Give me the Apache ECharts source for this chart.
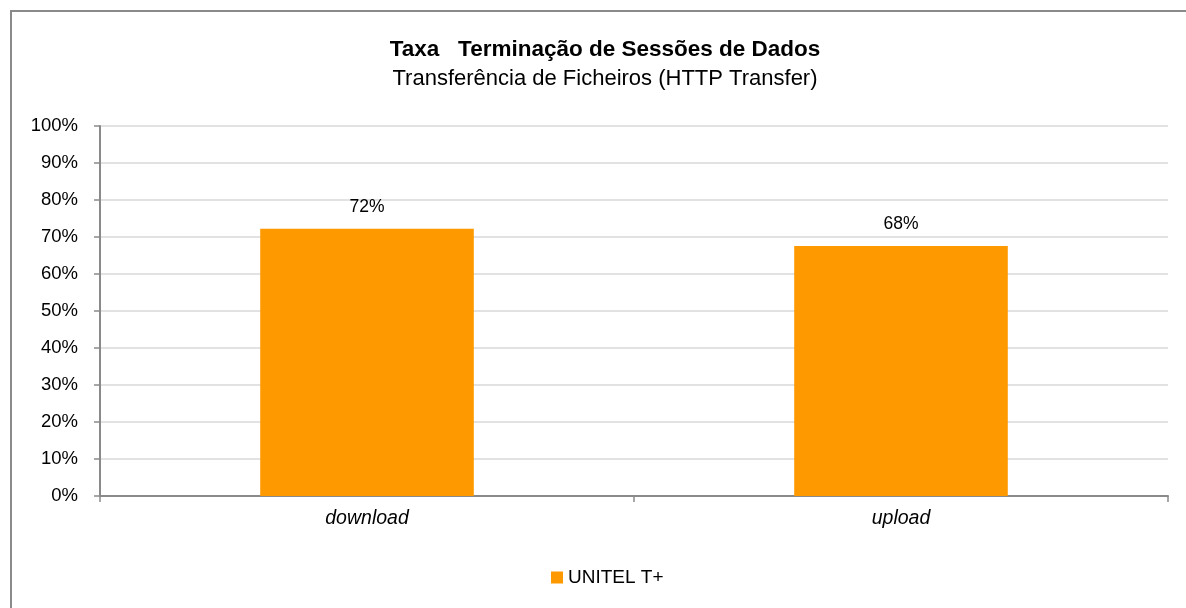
<!DOCTYPE html>
<html><head><meta charset="utf-8">
<script src="https://cdn.jsdelivr.net/npm/echarts@6/dist/echarts.min.js"></script>
<style>html,body{margin:0;padding:0;background:#fff}#c{width:1186px;height:608px}</style>
</head><body><div id="c"></div>
<script>
const categories = ['download', 'upload'];
const seriesName = 'UNITEL T+';
const values = [0.722, 0.676];
const yTicks = [0, 0.1, 0.2, 0.3, 0.4, 0.5, 0.6, 0.7, 0.8, 0.9, 1.0];

const chart = echarts.init(document.getElementById('c'));
const font = '"Liberation Sans", Arial, sans-serif';
chart.setOption({
  animation: false,
  textStyle: { fontFamily: font },
  graphic: [{
    type: 'rect', shape: { x: 11, y: 11, width: 1190, height: 620 },
    style: { fill: 'none', stroke: '#8a8a8a', lineWidth: 2 }, silent: true, z: -1
  }],
  title: {
    text: 'Taxa   Terminação de Sessões de Dados',
    subtext: 'Transferência de Ficheiros (HTTP Transfer)',
    left: 600, textAlign: 'center', top: 33, itemGap: 7,
    textStyle: { fontFamily: font, fontSize: 22.5, fontWeight: 'bold', color: '#000' },
    subtextStyle: { fontFamily: font, fontSize: 22, color: '#000' }
  },
  legend: {
    bottom: 16, left: 546, itemWidth: 12, itemHeight: 12, itemGap: 10,
    data: [{ name: seriesName, icon: 'rect' }],
    textStyle: { fontFamily: font, fontSize: 19, color: '#000', padding: [0, 0, 0, 0] }
  },
  grid: { left: 100, right: 18, top: 126, bottom: 112 },
  xAxis: {
    type: 'category', data: categories,
    axisLine: { lineStyle: { color: '#8a8a8a', width: 2 } },
    axisTick: { show: true, length: 6, lineStyle: { color: '#8a8a8a', width: 1.5 } },
    axisLabel: { fontFamily: font, fontSize: 19.5, color: '#000', fontStyle: 'italic', margin: 13 }
  },
  yAxis: {
    type: 'value', min: 0, max: 1, interval: 0.1,
    axisLine: { show: true, lineStyle: { color: '#8a8a8a', width: 2 } },
    axisTick: { show: true, length: 6, lineStyle: { color: '#8a8a8a', width: 1.5 } },
    splitLine: { lineStyle: { color: '#d9d9d9', width: 1.5 } },
    axisLabel: {
      fontFamily: font, fontSize: 18.5, color: '#000', margin: 22,
      formatter: v => Math.round(v * 100) + '%'
    }
  },
  series: [{
    name: seriesName, type: 'bar', data: values, barWidth: '40%',
    itemStyle: { color: '#ff9900' },
    label: {
      show: true, position: 'top', distance: 13, fontFamily: font, fontSize: 17.5, color: '#000',
      formatter: p => Math.round(p.value * 100) + '%'
    }
  }]
});
</script></body></html>
